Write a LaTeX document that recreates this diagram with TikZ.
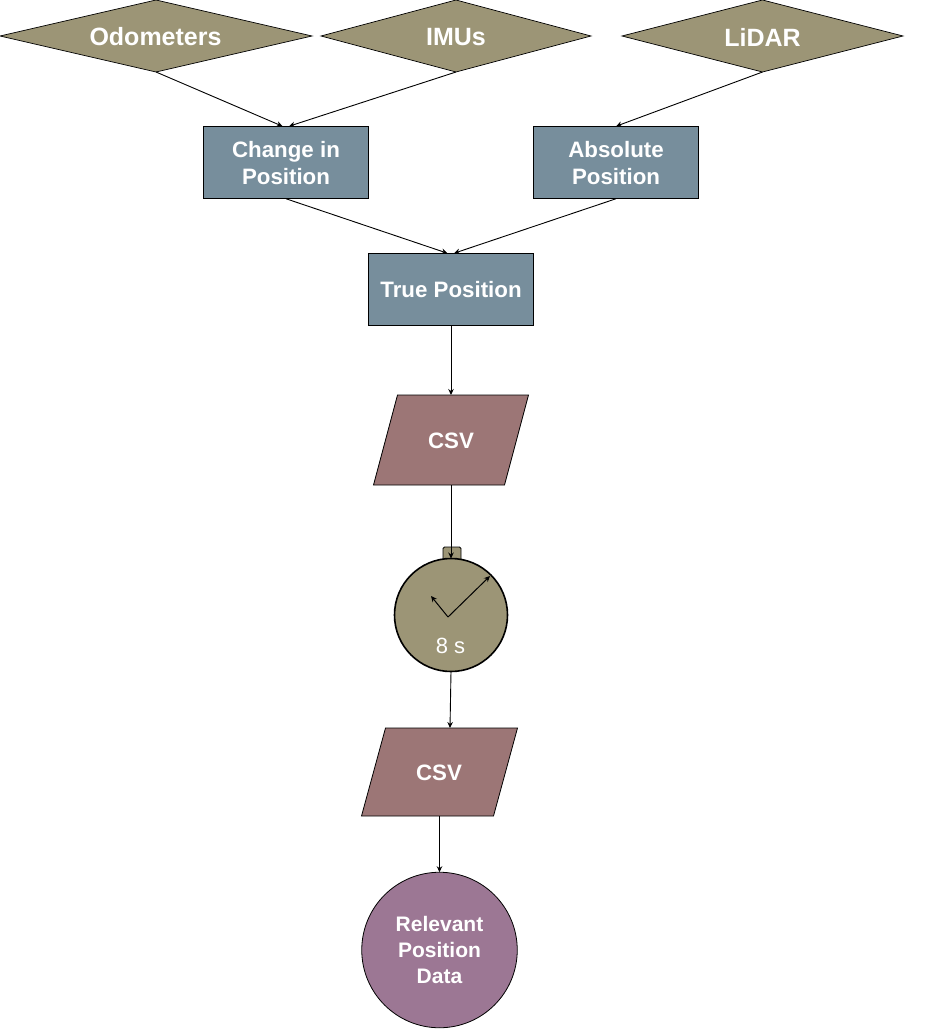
\documentclass[tikz,border=0pt]{standalone}
\usepackage{fontspec}
\setmainfont{Liberation Sans}
\usetikzlibrary{shapes.geometric,arrows.meta}
\definecolor{olive}{HTML}{9C9576}
\definecolor{slate}{HTML}{778E9C}
\definecolor{rose}{HTML}{9C7676}
\definecolor{plum}{HTML}{9C7794}
\newcommand{\lblA}{\fontsize{25}{27}\selectfont\bfseries}
\newcommand{\lblB}{\fontsize{22.3}{27}\selectfont\bfseries}
\newcommand{\lblC}{\fontsize{21}{26}\selectfont\bfseries}
\newcommand{\rhomb}[1]{\path[srcfill] (#1.west) -- (#1.north) -- (#1.east) -- (#1.south) -- cycle;}
\newcommand{\slantbox}[1]{\path[filefill] ([xshift=24pt]#1.north west) -- (#1.north east) -- ([xshift=-24pt]#1.south east) -- (#1.south west) -- cycle;}
\tikzset{
  x=1pt,y=-1pt,
  every node/.style={inner sep=0pt,outer sep=0pt,text=white,align=center},
  srcbox/.style={rectangle,minimum height=72pt},
  srcfill/.style={draw=black,line width=0.7pt,fill=olive},
  srctext/.style={font=\lblA},
  proc/.style={rectangle,draw=black,line width=0.8pt,fill=slate,minimum width=165.5pt,minimum height=72.5pt},
  proctext/.style={font=\lblB},
  filebox/.style={rectangle},
  filefill/.style={draw=black,line width=0.8pt,fill=rose},
  filetext/.style={font=\lblB},
  link/.style={draw=black,line width=0.9pt,-{Stealth[length=6pt,width=5.5pt]}},
  hand/.style={draw=black,line width=1pt,-{Stealth[length=6pt,width=5.5pt]}}
}
\begin{document}
\begin{tikzpicture}
\useasboundingbox (0,0) rectangle (941,1030);
\node[srcbox,minimum width=312pt] (odo) at (156,36) {};
\rhomb{odo}
\node[srctext] (odotext) at (155.5,37) {Odometers};
\node[srcbox,minimum width=270pt] (imu) at (456,36) {};
\rhomb{imu}
\node[srctext] (imutext) at (456,37) {IMUs};
\node[srcbox,minimum width=281pt] (lidar) at (762.5,36) {};
\rhomb{lidar}
\node[srctext] (lidartext) at (762.5,37) {LiDAR};
\node[proc] (change) at (286,162.5) {};
\node[proctext] (changetext) at (286,163.5) {Change in\\Position};
\node[proc] (abs) at (616,162.5) {};
\node[proctext] (abstext) at (616,163.5) {Absolute\\Position};
\node[proc] (true) at (451,289.5) {};
\node[proctext] (truetext) at (451,289.5) {True Position};
\node[filebox,minimum width=155pt,minimum height=90pt] (csva) at (451,440) {};
\slantbox{csva}
\node[filetext] (csvatext) at (451,441) {CSV};
\node[draw=black,line width=0.8pt,fill=olive,rounded corners=1.5pt,minimum width=18pt,minimum height=14pt] (cap) at (452,554) {};
\node[circle,draw=black,line width=1.6pt,fill=olive,minimum size=113pt] (clock) at (451,615) {};
\coordinate (pivot) at (448,617);
\coordinate (handA) at (490,576);
\coordinate (handB) at (431,596);
\node[font=\fontsize{22}{24}\selectfont] (sec) at (450.5,646) {8 s};
\node[filebox,minimum width=156pt,minimum height=88pt] (csvb) at (439.5,772) {};
\slantbox{csvb}
\node[filetext] (csvbtext) at (439,773) {CSV};
\node[circle,draw=black,line width=0.8pt,fill=plum,minimum size=155.5pt,font=\lblC] (rel) at (439.5,950) {Relevant\\Position\\Data};
\draw[link] (odo.south) -- ([xshift=-3.5pt]change.north);
\draw[link] (imu.south) -- ([xshift=3pt]change.north);
\draw[link] (lidar.south) -- (abs.north);
\draw[link] (change.south) -- ([xshift=-3.5pt]true.north);
\draw[link] (abs.south) -- ([xshift=3pt]true.north);
\draw[link] (true.south) -- (csva.north);
\draw[link] (csva.south) -- (clock.north);
\draw[link] (clock.south) -- (csvb.north -| 450,0);
\draw[link] (csvb.south) -- (rel.north);
\draw[hand] (pivot) -- (handA);
\draw[hand] (pivot) -- (handB);
\end{tikzpicture}
\end{document}
